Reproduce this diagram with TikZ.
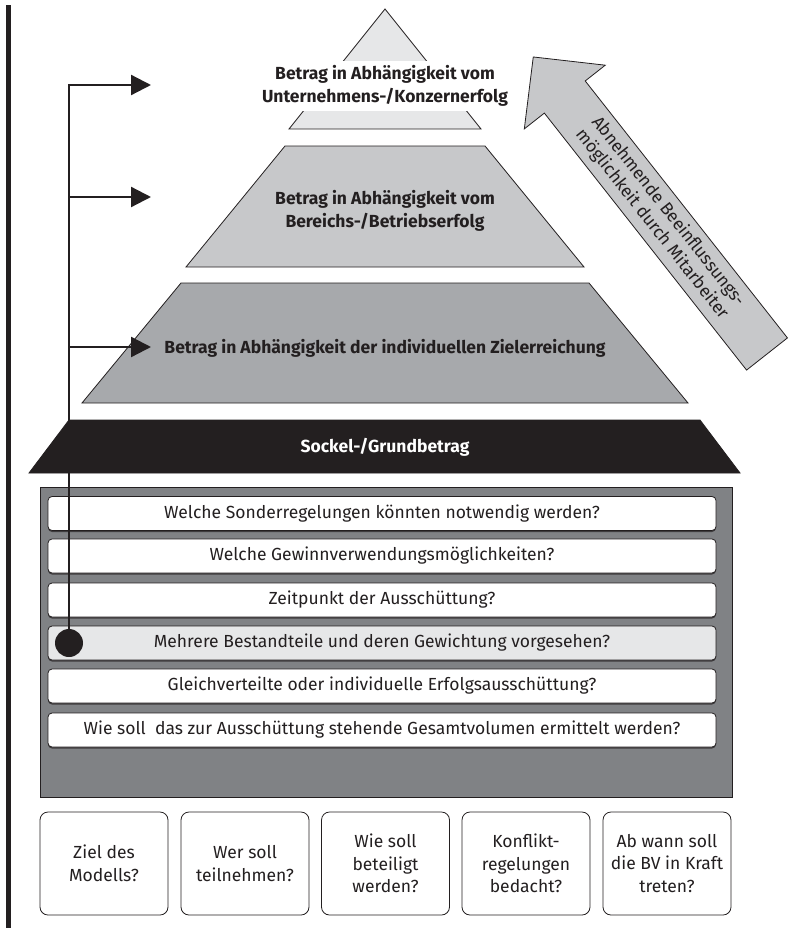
\documentclass[tikz,border=0pt]{standalone}
\usepackage{fontspec}
\setmainfont{Fira Sans}
\usetikzlibrary{arrows.meta}
\usetikzlibrary{shadows}
\definecolor{toplevel}{HTML}{E6E7E8}
\definecolor{midlevel}{HTML}{C7C8CA}
\definecolor{lowlevel}{HTML}{A7A9AC}
\definecolor{panelgray}{HTML}{808285}
\definecolor{ink}{HTML}{231F20}

\begin{document}
\begin{tikzpicture}[x=1pt,y=-1pt,
    level/.style={draw=ink,line width=0.8pt},
    leveltext/.style={font=\fontsize{17.5}{22.5}\selectfont\bfseries,text=ink,align=center},
    question/.style={draw=ink,rounded corners=4pt,line width=0.8pt,minimum width=668pt,minimum height=34pt,
        font=\fontsize{17.5}{20}\selectfont,text=ink,
        drop shadow={shadow xshift=0pt,shadow yshift=-1.5pt,opacity=0.7,fill=ink}},
    topic/.style={draw=ink,fill=white,rounded corners=8pt,line width=0.8pt,minimum width=128pt,minimum height=103pt,
        font=\fontsize{17.5}{22.5}\selectfont,text=ink,align=center},
    link/.style={draw=ink,line width=2.3pt}]
    \useasboundingbox (0,0) rectangle (805,931);

    \fill[ink] (6,5) rectangle (11,928);

    % pyramid
    \draw[level,fill=toplevel] (385,9) -- (481,129) -- (289,129) -- cycle;
    \node[leveltext,fill=white,minimum width=246pt,minimum height=50pt] (konzern) at (385,86)
        {Betrag in Abhängigkeit vom\\Unternehmens-/Konzernerfolg};

    \draw[level,fill=midlevel] (285,146) -- (485,146) -- (584,267) -- (186,267) -- cycle;
    \node[leveltext] (betrieb) at (385,211) {Betrag in Abhängigkeit vom\\Bereichs-/Betriebserfolg};

    \draw[level,fill=lowlevel] (181,283) -- (589,283) -- (688,403) -- (82,403) -- cycle;
    \node[leveltext] (ziel) at (385,348) {Betrag in Abhängigkeit der individuellen Zielerreichung};

    \draw[level,fill=ink] (69,420) -- (700,420) -- (740,473) -- (29,473) -- cycle;
    \node[leveltext,text=white] (sockel) at (385,447) {Sockel-/Grundbetrag};

    % influence arrow
    \begin{scope}[shift={(767,354)},rotate=128.2]
        \draw[level,fill=midlevel] (0,-26) -- (327,-26) -- (327,-51.5) -- (378,0)
            -- (327,51.5) -- (327,26) -- (0,26) -- cycle;
    \end{scope}
    \node[rotate=-51.8,align=center,font=\fontsize{17.5}{20.5}\selectfont,text=ink] (influence) at (660,218)
        {Abnehmende Beeinflussungs-\\möglichkeit durch Mitarbeiter};

    % questions
    \draw[draw=ink,line width=0.8pt,fill=panelgray] (40,487) rectangle (732,797);
    \foreach \y/\col/\txt [count=\i] in {
        513.5/white/Welche Sonderregelungen könnten notwendig werden?,
        556/white/Welche Gewinnverwendungsmöglichkeiten?,
        600/white/Zeitpunkt der Ausschüttung?,
        643/toplevel/Mehrere Bestandteile und deren Gewichtung vorgesehen?,
        686/white/Gleichverteilte oder individuelle Erfolgsausschüttung?,
        730/white/Wie soll\ \ das zur Ausschüttung stehende Gesamtvolumen ermittelt werden?}
        \node[question,fill=\col] (q\i) at (382,\y) {\txt};

    \foreach \x/\txt [count=\i] in {
        104/{Ziel des\\Modells?},
        245/{Wer soll\\teilnehmen?},
        385.5/{Wie soll\\beteiligt\\werden?},
        526/{Konflikt-\\regelungen\\bedacht?},
        667/{Ab wann soll\\die BV in Kraft\\treten?}}
        \node[topic] (topic\i) at (\x,863.5) {\txt};

    % connector
    \node[circle,fill=ink,minimum size=28pt,inner sep=0pt] (dot) at (69,643) {};
    \coordinate (b1) at (69,85);
    \coordinate (b2) at (69,197);
    \coordinate (b3) at (69,347);
    \coordinate (t1) at (151,85);
    \coordinate (t2) at (151,197);
    \coordinate (t3) at (151,347);
    \draw[link,-{Triangle[length=20pt,width=20pt]}] (dot.center) -- (b1) -- (t1);
    \draw[link,-{Triangle[length=20pt,width=20pt]}] (b2) -- (t2);
    \draw[link,-{Triangle[length=20pt,width=20pt]}] (b3) -- (t3);
\end{tikzpicture}
\end{document}
